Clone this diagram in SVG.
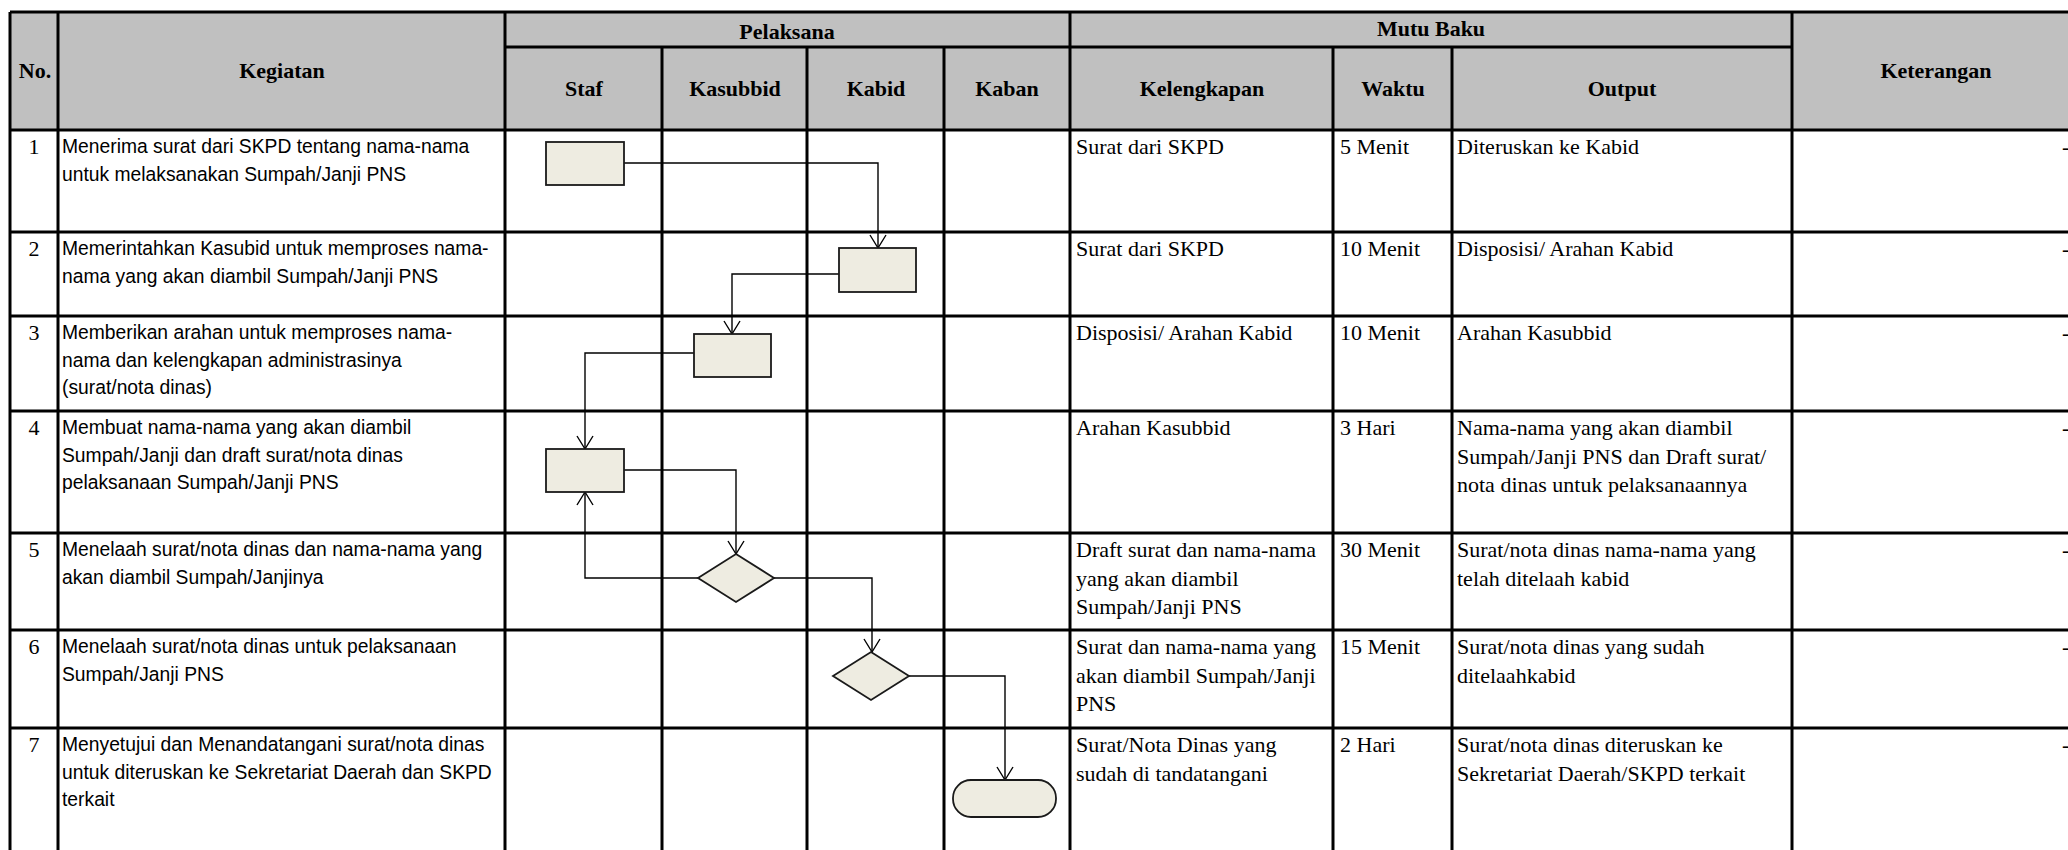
<svg xmlns="http://www.w3.org/2000/svg" width="2068" height="850" viewBox="0 0 2068 850">
<style>
.grid{stroke:#000;stroke-width:3;fill:none}
.hd{font-family:"Liberation Serif",serif;font-weight:bold;font-size:22px;fill:#000;text-anchor:middle}
.sf{font-family:"Liberation Serif",serif;font-size:22px;fill:#000}
.num{font-family:"Liberation Serif",serif;font-size:22px;fill:#000;text-anchor:middle}
.ss{font-family:"Liberation Sans",Arial,sans-serif;font-size:19.3px;fill:#000}
.node{fill:#EEECE1;stroke:#1a1a1a;stroke-width:1.8}
.conn{fill:none;stroke:#000;stroke-width:1.4}
</style>
<defs>
<marker id="arr" markerUnits="userSpaceOnUse" markerWidth="16" markerHeight="18" refX="13" refY="8" orient="auto" overflow="visible">
<path d="M0,0 L13,8 L0,16" fill="none" stroke="#000" stroke-width="1.4"/>
</marker>
</defs>
<rect x="0" y="0" width="2068" height="850" fill="#fff"/>
<rect x="10" y="12" width="2070" height="118" fill="#C0C0C0"/>
<g id="grid" class="grid">
<path d="M10,12 H2068 M10,12 V850 M58,12 V850 M505,12 V850 M1070,12 V850 M1792,12 V850 M505,47 H1792 M662,47 V850 M807,47 V850 M944,47 V850 M1333,47 V850 M1452,47 V850 M10,130 H2068 M10,232 H2068 M10,316 H2068 M10,411 H2068 M10,533 H2068 M10,630 H2068 M10,728 H2068"/>
</g>
<g id="header">
<text class="hd" x="35" y="78">No.</text>
<text class="hd" x="282" y="78">Kegiatan</text>
<text class="hd" x="787" y="39">Pelaksana</text>
<text class="hd" x="1431" y="36">Mutu Baku</text>
<text class="hd" x="1936" y="78">Keterangan</text>
<text class="hd" x="584" y="96">Staf</text>
<text class="hd" x="735" y="96">Kasubbid</text>
<text class="hd" x="876" y="96">Kabid</text>
<text class="hd" x="1007" y="96">Kaban</text>
<text class="hd" x="1202" y="96">Kelengkapan</text>
<text class="hd" x="1393" y="96">Waktu</text>
<text class="hd" x="1622" y="96">Output</text>
</g>
<g id="row1">
<text class="num" x="34" y="154">1</text>
<text class="ss" x="62" y="153">Menerima surat dari SKPD tentang nama-nama</text>
<text class="ss" x="62" y="180.5">untuk melaksanakan Sumpah/Janji PNS</text>
<text class="sf" x="1076" y="154">Surat dari SKPD</text>
<text class="sf" x="1340" y="154">5 Menit</text>
<text class="sf" x="1457" y="154">Diteruskan ke Kabid</text>
<text class="sf" x="2062" y="154">-</text>
</g>
<g id="row2">
<text class="num" x="34" y="256">2</text>
<text class="ss" x="62" y="255">Memerintahkan Kasubid untuk memproses nama-</text>
<text class="ss" x="62" y="282.5">nama yang akan diambil Sumpah/Janji PNS</text>
<text class="sf" x="1076" y="256">Surat dari SKPD</text>
<text class="sf" x="1340" y="256">10 Menit</text>
<text class="sf" x="1457" y="256">Disposisi/ Arahan Kabid</text>
<text class="sf" x="2062" y="256">-</text>
</g>
<g id="row3">
<text class="num" x="34" y="340">3</text>
<text class="ss" x="62" y="339">Memberikan arahan untuk memproses nama-</text>
<text class="ss" x="62" y="366.5">nama dan kelengkapan administrasinya</text>
<text class="ss" x="62" y="394">(surat/nota dinas)</text>
<text class="sf" x="1076" y="340">Disposisi/ Arahan Kabid</text>
<text class="sf" x="1340" y="340">10 Menit</text>
<text class="sf" x="1457" y="340">Arahan Kasubbid</text>
<text class="sf" x="2062" y="340">-</text>
</g>
<g id="row4">
<text class="num" x="34" y="435">4</text>
<text class="ss" x="62" y="434">Membuat nama-nama yang akan diambil</text>
<text class="ss" x="62" y="461.5">Sumpah/Janji dan draft surat/nota dinas</text>
<text class="ss" x="62" y="489">pelaksanaan Sumpah/Janji PNS</text>
<text class="sf" x="1076" y="435">Arahan Kasubbid</text>
<text class="sf" x="1340" y="435">3 Hari</text>
<text class="sf" x="1457" y="435">Nama-nama yang akan diambil</text>
<text class="sf" x="1457" y="463.5">Sumpah/Janji PNS dan Draft surat/</text>
<text class="sf" x="1457" y="492">nota dinas untuk pelaksanaannya</text>
<text class="sf" x="2062" y="435">-</text>
</g>
<g id="row5">
<text class="num" x="34" y="557">5</text>
<text class="ss" x="62" y="556">Menelaah surat/nota dinas dan nama-nama yang</text>
<text class="ss" x="62" y="583.5">akan diambil Sumpah/Janjinya</text>
<text class="sf" x="1076" y="557">Draft surat dan nama-nama</text>
<text class="sf" x="1076" y="585.5">yang akan diambil</text>
<text class="sf" x="1076" y="614">Sumpah/Janji PNS</text>
<text class="sf" x="1340" y="557">30 Menit</text>
<text class="sf" x="1457" y="557">Surat/nota dinas nama-nama yang</text>
<text class="sf" x="1457" y="585.5">telah ditelaah kabid</text>
<text class="sf" x="2062" y="557">-</text>
</g>
<g id="row6">
<text class="num" x="34" y="654">6</text>
<text class="ss" x="62" y="653">Menelaah surat/nota dinas untuk pelaksanaan</text>
<text class="ss" x="62" y="680.5">Sumpah/Janji PNS</text>
<text class="sf" x="1076" y="654">Surat dan nama-nama yang</text>
<text class="sf" x="1076" y="682.5">akan diambil Sumpah/Janji</text>
<text class="sf" x="1076" y="711">PNS</text>
<text class="sf" x="1340" y="654">15 Menit</text>
<text class="sf" x="1457" y="654">Surat/nota dinas yang sudah</text>
<text class="sf" x="1457" y="682.5">ditelaahkabid</text>
<text class="sf" x="2062" y="654">-</text>
</g>
<g id="row7">
<text class="num" x="34" y="752">7</text>
<text class="ss" x="62" y="751">Menyetujui dan Menandatangani surat/nota dinas</text>
<text class="ss" x="62" y="778.5">untuk diteruskan ke Sekretariat Daerah dan SKPD</text>
<text class="ss" x="62" y="806">terkait</text>
<text class="sf" x="1076" y="752">Surat/Nota Dinas yang</text>
<text class="sf" x="1076" y="780.5">sudah di tandatangani</text>
<text class="sf" x="1340" y="752">2 Hari</text>
<text class="sf" x="1457" y="752">Surat/nota dinas diteruskan ke</text>
<text class="sf" x="1457" y="780.5">Sekretariat Daerah/SKPD terkait</text>
<text class="sf" x="2062" y="752">-</text>
</g>
<g id="connectors">
<path class="conn" d="M624,163 H878 V248" marker-end="url(#arr)"/>
<path class="conn" d="M839,274 H732 V334" marker-end="url(#arr)"/>
<path class="conn" d="M694,353 H585 V449" marker-end="url(#arr)"/>
<path class="conn" d="M624,470 H736 V554" marker-end="url(#arr)"/>
<path class="conn" d="M698,578 H585 V492" marker-end="url(#arr)"/>
<path class="conn" d="M774,578 H872 V652" marker-end="url(#arr)"/>
<path class="conn" d="M909,676 H1005 V780" marker-end="url(#arr)"/>
</g>
<g id="n1"><rect class="node" x="546" y="142" width="78" height="43"/></g>
<g id="n2"><rect class="node" x="839" y="248" width="77" height="44"/></g>
<g id="n3"><rect class="node" x="694" y="334" width="77" height="43"/></g>
<g id="n4"><rect class="node" x="546" y="449" width="78" height="43"/></g>
<g id="d1"><polygon class="node" points="736,554 774,578 736,602 698,578"/></g>
<g id="d2"><polygon class="node" points="871,652 909,676 871,700 833,676"/></g>
<g id="t1"><rect class="node" x="953" y="780" width="103" height="37" rx="18" ry="18"/></g>
</svg>
